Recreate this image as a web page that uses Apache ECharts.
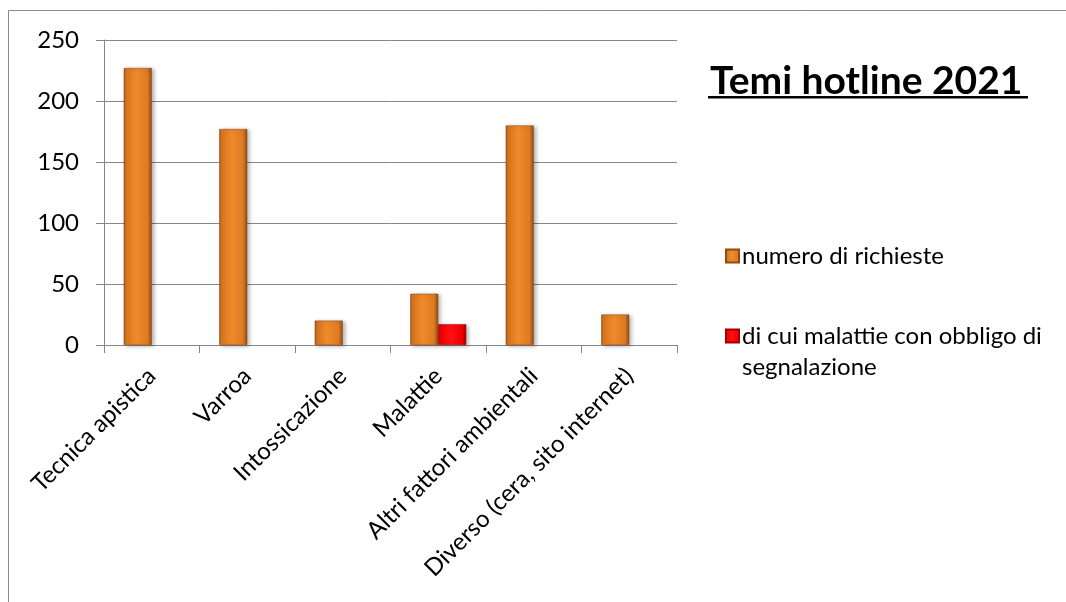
<!DOCTYPE html>
<html>
<head>
<meta charset="utf-8">
<script src="https://cdn.jsdelivr.net/npm/echarts@6/dist/echarts.min.js"></script>
<style>
html,body{margin:0;padding:0;background:#fff;}
#chart{width:1066px;height:602px;}
</style>
</head>
<body>
<div id="chart"></div>
<script>
const categories = ['Tecnica apistica', 'Varroa', 'Intossicazione', 'Malattie', 'Altri fattori ambientali', 'Diverso (cera, sito internet)'];
const seriesNames = ['numero di richieste', 'di cui malattie con obbligo di segnalazione'];
const richieste = [227, 177, 20, 42, 180, 25];
const malattieObbligo = [null, null, null, 17, null, null];
const yTicks = { min: 0, max: 250, interval: 50 };
const titleText = 'Temi hotline 2021';

const FONT = 'Lato';
const AXIS = '#868686';
const FS = 24;

const orangeGrad = new echarts.graphic.LinearGradient(0, 0, 1, 0, [
  { offset: 0, color: '#9E5518' },
  { offset: 0.08, color: '#D7761F' },
  { offset: 0.45, color: '#F08A2E' },
  { offset: 0.85, color: '#DE7A22' },
  { offset: 1, color: '#8E4A12' }
]);
const redGrad = new echarts.graphic.LinearGradient(0, 0, 1, 0, [
  { offset: 0, color: '#B80000' },
  { offset: 0.08, color: '#F00000' },
  { offset: 0.45, color: '#FF1010' },
  { offset: 0.85, color: '#F00000' },
  { offset: 1, color: '#A00000' }
]);

const chart = echarts.init(document.getElementById('chart'), null, { renderer: 'canvas' });
chart.setOption({
  animation: false,
  backgroundColor: '#fff',
  title: {
    text: titleText,
    left: 705, top: 57,
    textStyle: { fontFamily: FONT, fontWeight: 'bold', fontSize: 39, color: '#000' }
  },
  legend: [
    {
      data: [seriesNames[0]],
      orient: 'vertical', left: 720, top: 239,
      itemWidth: 13, itemHeight: 13, itemGap: 10,
      icon: 'rect',
      textStyle: { fontFamily: FONT, fontSize: FS, color: '#000', padding: [0, 0, 0, -2] }
    },
    {
      data: [seriesNames[1]],
      orient: 'vertical', left: 720, top: 319,
      itemWidth: 13, itemHeight: 13,
      icon: 'rect',
      formatter: function () { return 'di cui malattie con obbligo di'; },
      textStyle: { fontFamily: FONT, fontSize: FS, color: '#000', padding: [0, 0, 0, -2] }
    }
  ],
  grid: { left: 104, top: 40, right: 389, bottom: 257, containLabel: false },
  xAxis: {
    type: 'category',
    data: categories,
    axisLine: { show: true, lineStyle: { color: AXIS, width: 1 } },
    axisTick: { show: true, length: 8, lineStyle: { color: AXIS } },
    axisLabel: { interval: 0, rotate: 45, fontFamily: FONT, fontSize: FS, color: '#000', margin: 27 }
  },
  yAxis: {
    type: 'value',
    min: yTicks.min, max: yTicks.max, interval: yTicks.interval,
    axisLine: { show: true, lineStyle: { color: AXIS, width: 1 } },
    axisTick: { show: true, inside: false, length: 8, lineStyle: { color: AXIS } },
    axisLabel: { fontFamily: FONT, fontSize: FS, color: '#000', margin: 25 },
    splitLine: { show: true, lineStyle: { color: AXIS, width: 1 } }
  },
  series: [
    {
      name: seriesNames[0], type: 'bar', data: richieste,
      barWidth: 28, barGap: '0%',
      itemStyle: { color: orangeGrad, borderColor: '#8E4A12', borderWidth: 0.5,
        shadowBlur: 4, shadowColor: 'rgba(0,0,0,0.3)', shadowOffsetX: 2, shadowOffsetY: 1 }
    },
    {
      name: seriesNames[1], type: 'bar', data: malattieObbligo,
      barWidth: 28, barGap: '0%',
      itemStyle: { color: redGrad, borderColor: '#A00000', borderWidth: 0.5,
        shadowBlur: 4, shadowColor: 'rgba(0,0,0,0.3)', shadowOffsetX: 2, shadowOffsetY: 1 }
    }
  ],
  graphic: [
    { type: 'rect', silent: true, z: -1,
      shape: { x: 8.5, y: 10.5, width: 1200, height: 800 },
      style: { fill: null, stroke: '#8a8a8a', lineWidth: 1 } },
    { type: 'rect', silent: true,
      shape: { x: 708, y: 96, width: 320, height: 2.5 },
      style: { fill: '#000' } },
    { type: 'text', silent: true, left: 742, top: 355,
      style: { text: 'segnalazione', fontFamily: FONT, fontSize: FS, fill: '#000' } }
  ]
});
</script>
</body>
</html>
